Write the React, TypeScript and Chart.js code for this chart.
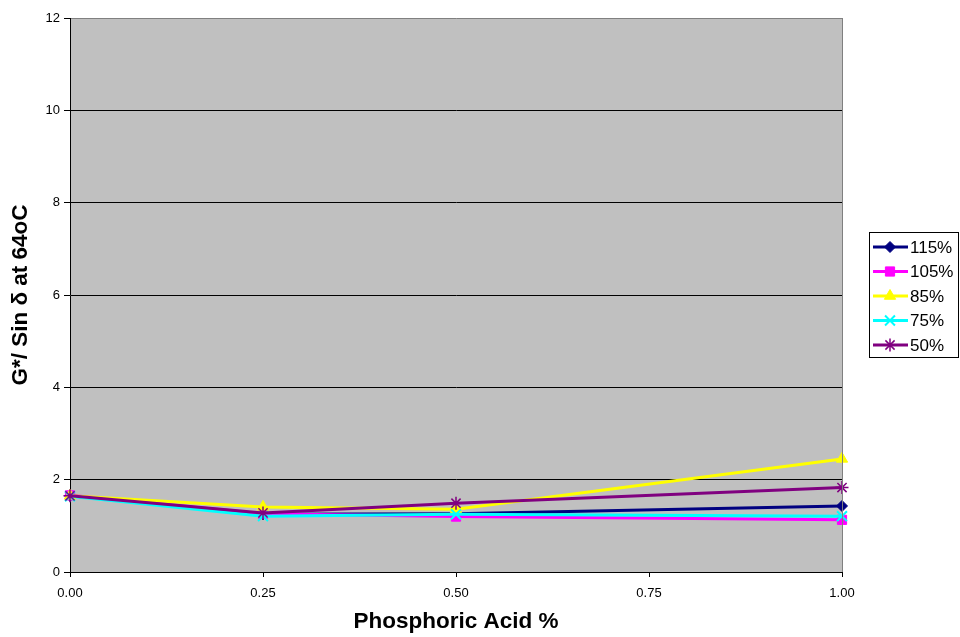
import React, { useEffect, useRef } from "react";
import { Chart, registerables } from "chart.js";
import { drawPoint } from "chart.js/helpers";

Chart.register(...registerables);

const xValues = [0, 0.25, 0.5, 1.0];
const s115 = [1.65, 1.25, 1.26, 1.43];
const s105 = [1.66, 1.26, 1.2, 1.13];
const s85 = [1.65, 1.41, 1.36, 2.45];
const s75 = [1.64, 1.21, 1.25, 1.21];
const s50 = [1.65, 1.28, 1.49, 1.83];
const seriesNames = ["115%", "105%", "85%", "75%", "50%"];
const xTitle = "Phosphoric Acid %";
const yTitle = "G*/ Sin \u03b4 at 64oC";

const FONT = "'Liberation Sans', Arial, sans-serif";

type Style = { color: string; point: string; radius: number; bw: number };
const styles: Style[] = [
  { color: "#000080", point: "rectRot", radius: 5.5, bw: 1 },
  { color: "#FF00FF", point: "rect", radius: 6.5, bw: 1 },
  { color: "#FFFF00", point: "triangle", radius: 6.5, bw: 1 },
  { color: "#00FFFF", point: "crossRot", radius: 7, bw: 2 },
  { color: "#800080", point: "star", radius: 6.5, bw: 1.5 },
];

const bgPlugin = {
  id: "plotBg",
  beforeDraw(chart: any) {
    const { ctx, chartArea: a } = chart;
    ctx.save();
    ctx.fillStyle = "#C0C0C0";
    ctx.fillRect(a.left, a.top, a.right - a.left, a.bottom - a.top);
    ctx.restore();
  },
  afterDatasetsDraw(chart: any) {
    const { ctx, chartArea: a } = chart;
    ctx.save();
    ctx.strokeStyle = "#808080";
    ctx.lineWidth = 1;
    ctx.beginPath();
    ctx.moveTo(a.right + 0.5, a.top);
    ctx.lineTo(a.right + 0.5, a.bottom);
    ctx.stroke();
    ctx.restore();
  },
};

const legendPlugin = {
  id: "customLegend",
  afterDraw(chart: any) {
    const ctx = chart.ctx;
    const left = 869.5, top = 232.5, w = 89, h = 125;
    ctx.save();
    ctx.fillStyle = "#FFFFFF";
    ctx.fillRect(left, top, w, h);
    ctx.strokeStyle = "#000000";
    ctx.lineWidth = 1;
    ctx.strokeRect(left, top, w, h);
    ctx.font = `17px ${FONT}`;
    ctx.textBaseline = "middle";
    ctx.textAlign = "left";
    seriesNames.forEach((name, i) => {
      const st = styles[i];
      const y = 247 + i * 24.5;
      ctx.strokeStyle = st.color;
      ctx.lineWidth = 3;
      ctx.beginPath();
      ctx.moveTo(873, y);
      ctx.lineTo(908, y);
      ctx.stroke();
      ctx.fillStyle = st.color;
      ctx.strokeStyle = st.color;
      ctx.lineWidth = st.bw;
      drawPoint(ctx, { pointStyle: st.point as any, radius: st.radius, rotation: 0, borderWidth: st.bw } as any, 890, y);
      ctx.fillStyle = "#000000";
      ctx.fillText(name, 910, y + 1);
    });
    ctx.restore();
  },
};

export default function App() {
  const ref = useRef<HTMLCanvasElement>(null);
  useEffect(() => {
    if (!ref.current) return;
    Chart.defaults.font.family = FONT;
    Chart.defaults.color = "#000000";
    const all = [s115, s105, s85, s75, s50];
    const chart = new Chart(ref.current, {
      type: "line",
      data: {
        datasets: all.map((vals, i) => ({
          label: seriesNames[i],
          data: vals.map((v, j) => ({ x: xValues[j], y: v })),
          borderColor: styles[i].color,
          backgroundColor: styles[i].color,
          pointBackgroundColor: styles[i].color,
          pointBorderColor: styles[i].color,
          pointStyle: styles[i].point as any,
          pointRadius: styles[i].radius,
          pointBorderWidth: styles[i].bw,
          borderWidth: 3,
          tension: 0,
          clip: false as any,
          order: 4 - i,
        })),
      },
      plugins: [bgPlugin, legendPlugin],
      options: {
        animation: false,
        responsive: false,
        events: [],
        layout: { padding: { top: 18, right: 118, bottom: 0, left: 0 } },
        plugins: { legend: { display: false }, tooltip: { enabled: false } },
        scales: {
          x: {
            type: "linear",
            min: 0,
            max: 1,
            afterFit(scale: any) {
              scale.height = 65;
            },
            ticks: {
              stepSize: 0.25,
              callback: (v: any) => Number(v).toFixed(2),
              font: { size: 13 },
              color: "#000000",
              padding: 9,
              maxRotation: 0,
            },
            grid: { drawOnChartArea: false, drawTicks: true, tickLength: 5, color: "#000000" },
            border: { display: true, color: "#000000", width: 1 },
            title: {
              display: true,
              text: xTitle,
              font: { size: 22.5, weight: "bold", lineHeight: 1.2 },
              color: "#000000",
              padding: { top: 0, bottom: 2 },
            },
          },
          y: {
            min: 0,
            max: 12,
            afterFit(scale: any) {
              scale.width = 70;
            },
            ticks: {
              stepSize: 2,
              font: { size: 13 },
              color: "#000000",
              padding: 4,
            },
            grid: {
              color: (c: any) => (c.tick && c.tick.value === 12 ? "#808080" : "#000000"),
              lineWidth: 1,
              tickLength: 6,
              tickColor: "#000000",
            } as any,
            border: { display: true, color: "#000000", width: 1 },
            title: {
              display: true,
              text: yTitle,
              font: { size: 22.5, weight: "bold", lineHeight: 1.2 },
              color: "#000000",
              padding: { top: 7, bottom: 0 },
            },
          },
        },
      } as any,
    });
    return () => chart.destroy();
  }, []);
  return (
    <div style={{ position: "fixed", left: 0, top: 0, width: 960, height: 637, background: "#fff" }}>
      <canvas ref={ref} width={960} height={637} style={{ display: "block" }} />
    </div>
  );
}
